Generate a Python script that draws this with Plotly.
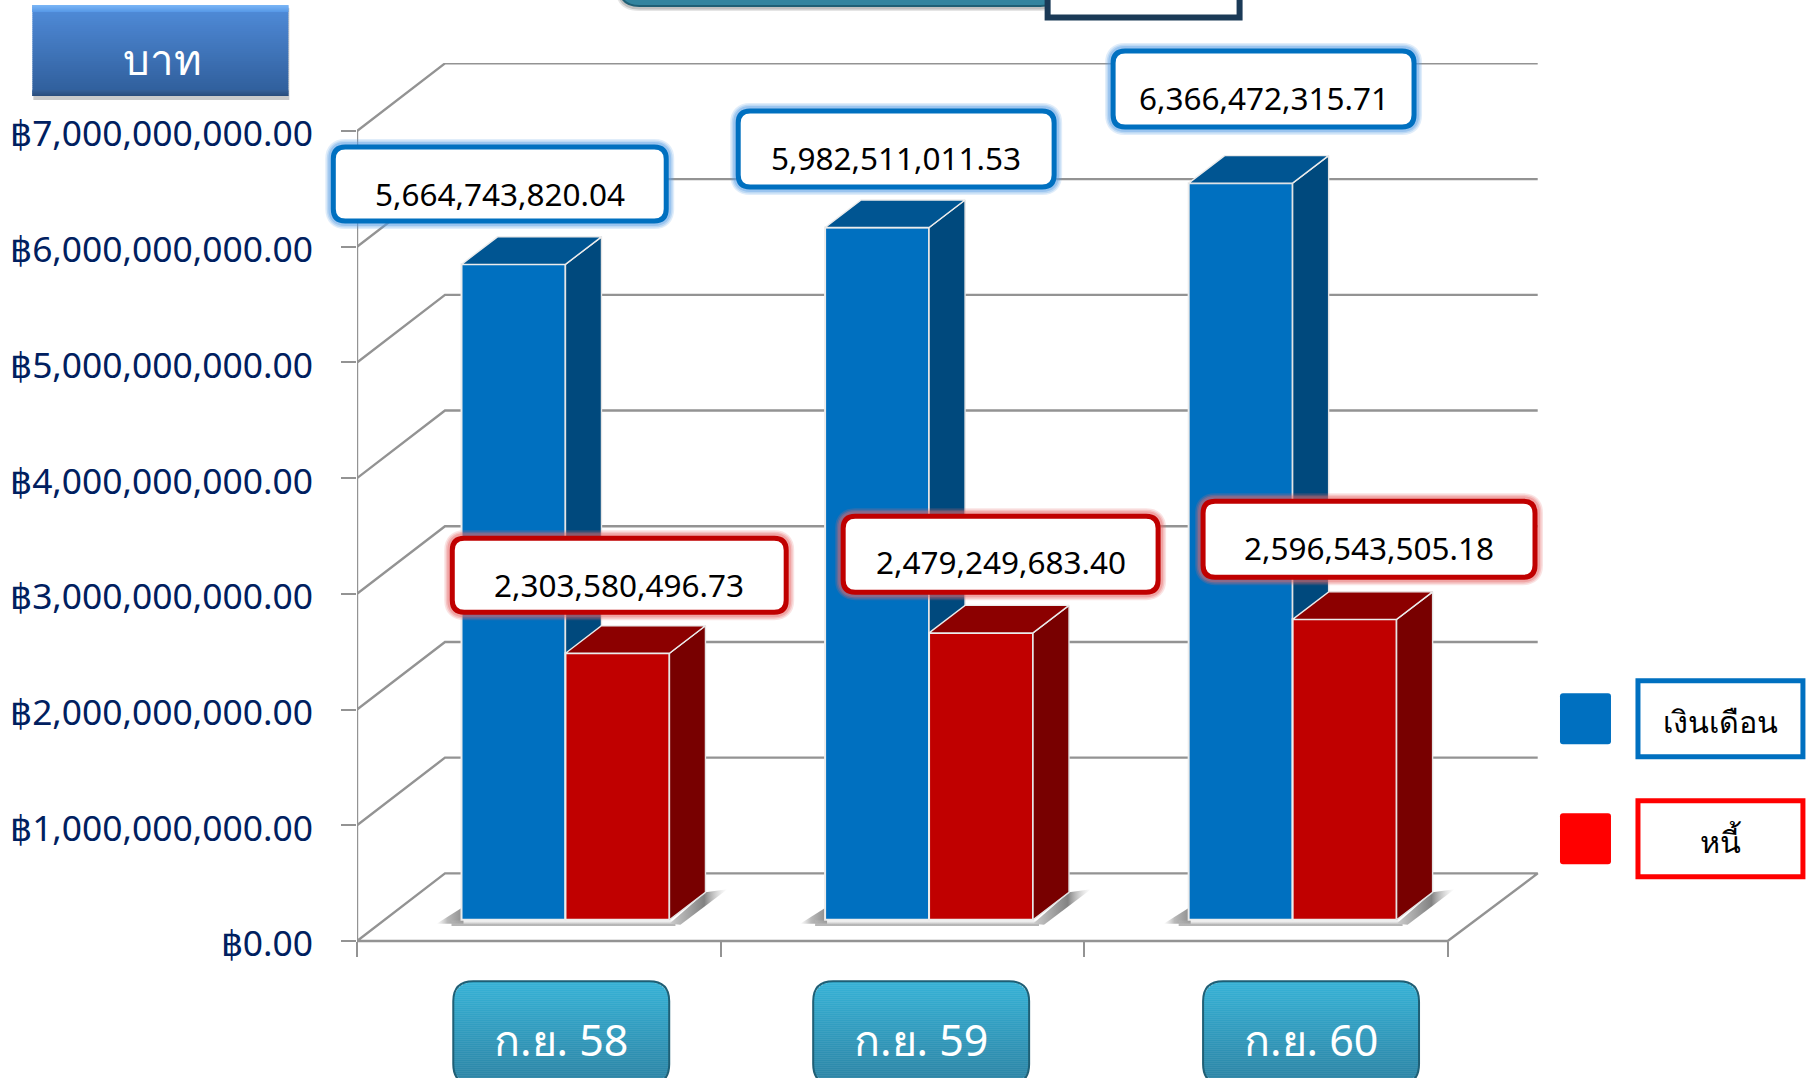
import math
import plotly.graph_objects as go

# ---------- data ----------
categories = ["ก.ย. 58", "ก.ย. 59", "ก.ย. 60"]
salary = [5664743820.04, 5982511011.53, 6366472315.71]
debt = [2303580496.73, 2479249683.40, 2596543505.18]
y_ticks = [0, 1e9, 2e9, 3e9, 4e9, 5e9, 6e9, 7e9]
y_tick_text = ["฿0.00", "฿1,000,000,000.00", "฿2,000,000,000.00", "฿3,000,000,000.00",
               "฿4,000,000,000.00", "฿5,000,000,000.00", "฿6,000,000,000.00", "฿7,000,000,000.00"]
series_names = ["เงินเดือน", "หนี้"]
unit_label = "บาท"

# ---------- page geometry ----------
W, H = 1808, 1078
X0, Y0 = 356.7, 940.7
PAD = 10
BOTTOM = Y0 + PAD
PX_PER_CAT = 363.67
PX_PER_BN = 115.67
RIGHT, TOP = 1540, 63
xmax = (RIGHT - X0) / PX_PER_CAT
ymax = (Y0 - TOP) / PX_PER_BN * 1e9

def dx(px): return px / PX_PER_CAT
def dy(px): return px / PX_PER_BN * 1e9
def px(x): return (x - X0) / (RIGHT - X0)
def py(y): return (BOTTOM - y) / (BOTTOM - TOP)

ymin = -dy(PAD)
WALL_X, WALL_Y = dx(88), dy(67.6)
BASE_Y = dy(21.2)
BAR_W = dx(104)
GROUP_SHIFT = dx(26.7)
DEPTH_X, DEPTH_Y = dx(36), dy(27.5)
LABEL_DROP = dy(3)

FONT = "Noto Sans, Open Sans, sans-serif"
GRID = "#939393"
fig = go.Figure()

# ---------- walls / gridlines (base subplot) ----------
for v in y_ticks:
    xs = [0, WALL_X, 3 + WALL_X + dx(2)]
    ys = [v, v + WALL_Y, v + WALL_Y]
    if v == 0:
        xs += [3, 0]
        ys += [0, 0]
    fig.add_trace(go.Scatter(x=xs, y=ys, mode="lines", line=dict(color=GRID, width=2.4),
                             hoverinfo="skip", showlegend=False, cliponaxis=False))
fig.add_trace(go.Scatter(x=[0, 0], y=[0, y_ticks[-1]], mode="lines", line=dict(color=GRID, width=2.4),
                         hoverinfo="skip", showlegend=False, cliponaxis=False))

# ---------- floor shadows ----------
def shadow(xs, ys, kind, scale):
    fig.add_trace(go.Scatter(x=xs, y=ys, mode="lines", fill="toself", line=dict(width=0),
                             fillgradient=dict(type=kind, colorscale=scale),
                             hoverinfo="skip", showlegend=False, cliponaxis=False))

for i in range(len(categories)):
    c = i + 0.5 + GROUP_SHIFT
    l, r = c - BAR_W, c + BAR_W
    shadow([l - dx(25), l + dx(2), l + dx(2), l - dx(25)],
           [BASE_Y - dy(4), BASE_Y + dy(13), BASE_Y - dy(4), BASE_Y - dy(4)], "horizontal",
           [[0, "rgba(200,200,200,0)"], [0.4, "rgba(185,185,185,1)"], [1, "rgba(140,140,140,1)"]])
    shadow([l - dx(10), r + dx(6), r + dx(6), l - dx(10)],
           [BASE_Y, BASE_Y, BASE_Y - dy(6), BASE_Y - dy(6)], "vertical",
           [[0, "rgba(150,150,150,1)"], [1, "rgba(210,210,210,0)"]])
    shadow([r, r + DEPTH_X, r + DEPTH_X + dx(22), r + dx(11), r],
           [BASE_Y - dy(4), BASE_Y + DEPTH_Y, BASE_Y + DEPTH_Y + dy(3), BASE_Y - dy(5), BASE_Y - dy(4)],
           "horizontal",
           [[0, "rgba(205,205,205,1)"], [0.6, "rgba(130,130,130,1)"], [1, "rgba(200,200,200,0)"]])

# ---------- bars: each series in its own overlaid subplot so the red sits on the blue ----------
def add_series(values, name, offset, front, top, side, axis):
    centres = [i + 0.5 + GROUP_SHIFT for i in range(len(values))]
    fig.add_trace(go.Bar(x=centres, y=values, base=BASE_Y, width=BAR_W, offset=offset, name=name,
                         marker=dict(color=front, line=dict(color="#ececec", width=2)),
                         showlegend=False, cliponaxis=False, xaxis="x" + axis, yaxis="y" + axis))
    for c, v in zip(centres, values):
        a = c + offset
        b = a + BAR_W
        t = BASE_Y + v
        fig.add_trace(go.Scatter(x=[b, b + DEPTH_X, b + DEPTH_X, b, b],
                                 y=[BASE_Y, BASE_Y + DEPTH_Y, t + DEPTH_Y, t, BASE_Y],
                                 mode="lines", fill="toself", fillcolor=side,
                                 line=dict(color="#e4e4e4", width=1.4), hoverinfo="skip", showlegend=False,
                                 cliponaxis=False, xaxis="x" + axis, yaxis="y" + axis))
        fig.add_trace(go.Scatter(x=[a, a + DEPTH_X, b + DEPTH_X, b, a],
                                 y=[t, t + DEPTH_Y, t + DEPTH_Y, t, t],
                                 mode="lines", fill="toself", fillcolor=top,
                                 line=dict(color="#ececec", width=1.4), hoverinfo="skip", showlegend=False,
                                 cliponaxis=False, xaxis="x" + axis, yaxis="y" + axis))

add_series(salary, series_names[0], -BAR_W, "#0070C0", "#005592", "#00497D", "2")
add_series(debt, series_names[1], 0, "#C00000", "#8C0000", "#780000", "3")

# carrier for the tick-label axis, which sits a few pixels lower to match the reference baseline
fig.add_trace(go.Scatter(x=[0], y=[0], mode="markers", marker=dict(opacity=0, size=1), hoverinfo="skip",
                         showlegend=False, xaxis="x4", yaxis="y4"))

# ---------- decoration helpers ----------
shapes, annotations = [], []

def rr_path(x0, y0, x1, y1, r):
    a, b, c, d = px(x0), px(x1), py(y0), py(y1)
    return (f"M {px(x0 + r)} {c} L {px(x1 - r)} {c} Q {b} {c} {b} {py(y0 + r)} "
            f"L {b} {py(y1 - r)} Q {b} {d} {px(x1 - r)} {d} L {px(x0 + r)} {d} "
            f"Q {a} {d} {a} {py(y1 - r)} L {a} {py(y0 + r)} Q {a} {c} {px(x0 + r)} {c} Z")

def rrect(x0, y0, x1, y1, r, fill=None, line=None, lw=0, opacity=1):
    shapes.append(dict(type="path", xref="paper", yref="paper", layer="above", path=rr_path(x0, y0, x1, y1, r),
                       fillcolor=fill or "rgba(0,0,0,0)", opacity=opacity,
                       line=dict(color=line or "rgba(0,0,0,0)", width=lw)))

def lerp(c0, c1, t):
    return "rgb(%d,%d,%d)" % tuple(round(a + (b - a) * t) for a, b in zip(c0, c1))

def grad_rrect(x0, y0, x1, y1, r, c0, c1, step=2):
    y = y0
    while y < y1:
        t = (y - y0) / max(1, y1 - y0)
        ins = 0
        yc = y + step / 2
        if yc - y0 < r:
            ins = r - math.sqrt(max(0, r * r - (r - (yc - y0)) ** 2))
        elif y1 - yc < r:
            ins = r - math.sqrt(max(0, r * r - (r - (y1 - yc)) ** 2))
        shapes.append(dict(type="rect", xref="paper", yref="paper", layer="above", x0=px(x0 + ins), x1=px(x1 - ins),
                           y0=py(y), y1=py(min(y + step + 0.5, y1)), fillcolor=lerp(c0, c1, t), line=dict(width=0)))
        y += step

def text(x, y, s, size, color, weight=400):
    annotations.append(dict(xref="paper", yref="paper", x=px(x), y=py(y), text=s, showarrow=False,
                            xanchor="center", yanchor="middle",
                            font=dict(family=FONT, size=size, color=color, weight=weight)))

def value_box(x0, y0, x1, y1, value, col, glow, ty):
    for w, op in ((16, 0.18), (13, 0.25), (10, 0.35)):
        rrect(x0, y0, x1, y1, 12, None, glow, w, op)
    rrect(x0, y0, x1, y1, 12, "#ffffff", col, 5)
    text((x0 + x1) / 2, ty, f"{value:,.2f}", 31.5, "#000000")

# ---------- cropped title at the top ----------
for w, op in ((8, 0.15), (5, 0.25)):
    rrect(619, -30, 1060, 7, 20, None, "#555555", w, op)
rrect(619, -30, 1060, 6, 20, "#33849F", "#1F5F75", 2)
shapes.append(dict(type="rect", xref="paper", yref="paper", layer="above", x0=px(1047.5), x1=px(1239.5),
                   y0=py(-5), y1=py(17.5), fillcolor="#ffffff", line=dict(color="#1B3A57", width=6)))

# ---------- unit box ----------
shapes.append(dict(type="rect", xref="paper", yref="paper", layer="above", x0=px(33), x1=px(289), y0=py(8), y1=py(100),
                   fillcolor="rgba(80,80,80,0.3)", line=dict(width=0)))
grad_rrect(32, 5, 288, 96, 0, (80, 140, 218), (46, 92, 152))
grad_rrect(32, 5, 288, 12, 0, (120, 180, 245), (84, 150, 230), 1)
grad_rrect(32, 90, 288, 96, 0, (52, 94, 150), (40, 74, 120), 1)
text(162, 59, unit_label, 42, "#ffffff")

# ---------- value call-outs ----------
blue_boxes = [(333, 147, 666, 221, 193), (738, 111, 1054, 187, 157), (1113, 51, 1414, 127, 97)]
red_boxes = [(452, 538, 786, 612, 584), (843, 516, 1158, 592, 561), (1203, 501, 1535, 577, 547)]
for b, v in zip(blue_boxes, salary):
    value_box(b[0], b[1], b[2], b[3], v, "#0070C0", "#5A9FE6", b[4])
for b, v in zip(red_boxes, debt):
    value_box(b[0], b[1], b[2], b[3], v, "#C00000", "#E86A6A", b[4])

# ---------- category boxes ----------
cat_boxes = [(453, 669), (813, 1029), (1203, 1419)]
for (a, b), c in zip(cat_boxes, categories):
    grad_rrect(a, 981, b, 1084, 20, (54, 178, 214), (44, 130, 162))
    rrect(a, 981, b, 1084, 20, None, "#1F5F75", 2)
    text((a + b) / 2, 1039, c, 43, "#ffffff")

# ---------- legend ----------
legend = [(693, 678, "#0070C0"), (813, 798, "#FF0000")]
for (sq, bx, col), name in zip(legend, series_names):
    rrect(1560, sq, 1611, sq + 51, 3, col)
    shapes.append(dict(type="rect", xref="paper", yref="paper", layer="above", x0=px(1638), x1=px(1803),
                       y0=py(bx + 2.5), y1=py(bx + 78.5), fillcolor="#ffffff", line=dict(color=col, width=5)))
    text(1721, bx + 43, name, 30.5, "#000000")

# ---------- layout ----------
tick_x = [0, 1, 2, 3]
overlay = dict(range=[0, xmax], visible=False, overlaying="x", fixedrange=True)
overlay_y = dict(range=[ymin, ymax], visible=False, overlaying="y", fixedrange=True)
fig.update_layout(
    width=W, height=H, autosize=False, paper_bgcolor="#ffffff", plot_bgcolor="#ffffff",
    margin=dict(l=X0, r=W - RIGHT, t=TOP, b=H - BOTTOM, pad=0, autoexpand=False),
    barmode="overlay", showlegend=False,
    shapes=shapes, annotations=annotations,
    xaxis=dict(range=[0, xmax], tickmode="array", tickvals=tick_x, ticktext=["", "", "", ""],
               ticks="outside", ticklen=15, tickwidth=2.2, tickcolor=GRID, showgrid=False, zeroline=False,
               showline=False, fixedrange=True, anchor="free", position=PAD / (BOTTOM - TOP)),
    yaxis=dict(range=[ymin, ymax], tickmode="array", tickvals=y_ticks, ticktext=[""] * len(y_ticks),
               ticks="outside", ticklen=15, tickwidth=2.2, tickcolor=GRID, showgrid=False, zeroline=False,
               showline=False, fixedrange=True),
    xaxis2=overlay, yaxis2=overlay_y, xaxis3=overlay, yaxis3=overlay_y, xaxis4=overlay,
    yaxis4=dict(range=[ymin + LABEL_DROP, ymax + LABEL_DROP], overlaying="y", fixedrange=True, tickmode="array",
                tickvals=y_ticks, ticktext=y_tick_text, ticks="", showgrid=False, zeroline=False, showline=False,
                ticklabelstandoff=43, tickfont=dict(family=FONT, size=35.4, color="#002060")),
)

fig.write_html("out.html", post_script="document.body.style.margin='0';document.body.style.overflow='hidden';",
               config=dict(displayModeBar=False))
